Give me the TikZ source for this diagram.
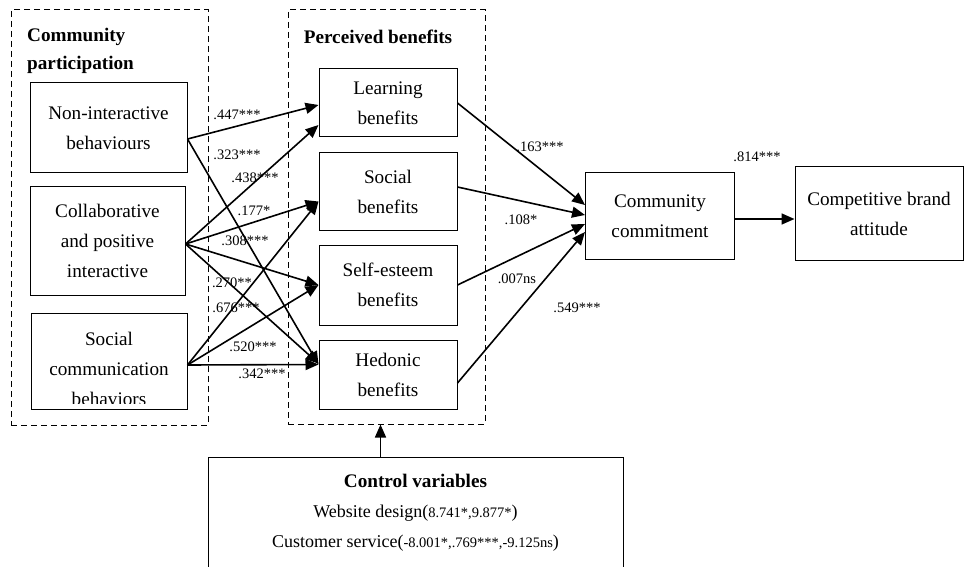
\documentclass[tikz,border=0pt]{standalone}
\usepackage{fontspec}
\setmainfont{Liberation Serif}
\usetikzlibrary{arrows.meta,calc}

\begin{document}
\begin{tikzpicture}
  [x=1pt,y=-1pt,
   every node/.style={font=\fontsize{19.2}{30}\selectfont,align=center,inner sep=0pt},
   box/.style={draw,line width=1pt},
   group/.style={draw,dash pattern=on 6pt off 4pt,line width=1pt},
   coef/.style={font=\fontsize{14.5}{16}\selectfont},
   head/.style={font=\fontsize{19.2}{28}\selectfont\bfseries},
   arr/.style={-{Triangle[length=13pt,width=11pt]},line width=1.6pt}]
  \useasboundingbox (0,0) rectangle (964,567);

  % dashed groups
  \node[group,minimum width=197,minimum height=415] (cp) at (109.5,217.5) {};
  \node[group,minimum width=197,minimum height=414] (pb) at (386.5,217) {};
  \node[head,anchor=west,align=left] (cptitle) at (27,51) {Community\\participation};
  \node[head] (pbtitle) at (378,37) {Perceived benefits};

  % community participation
  \node[box,minimum width=157,minimum height=90] (ni) at (108.5,128) {Non-interactive\\behaviours};
  \node[box,minimum width=155,minimum height=109] (cpi) at (107.5,240.5) {Collaborative\\and positive\\interactive};
  \node[box,minimum width=156,minimum height=96] (scb) at (109,361) {};
  \begin{scope}
    \clip ($(scb.south west)+(1,-6)$) rectangle (scb.north east);
    \node (scbtext) at (109,369) {Social\\communication\\behaviors};
  \end{scope}

  % perceived benefits
  \node[box,minimum width=138,minimum height=68] (learn) at (388,103) {Learning\\benefits};
  \node[box,minimum width=138,minimum height=77] (social) at (388,191.5) {Social\\benefits};
  \node[box,minimum width=138,minimum height=80] (esteem) at (388,285) {Self-esteem\\benefits};
  \node[box,minimum width=138,minimum height=69] (hedonic) at (388,374.5) {Hedonic\\benefits};

  \node[box,minimum width=149,minimum height=86] (commit) at (660,216) {Community\\commitment};
  \node[box,minimum width=168,minimum height=93] (brand) at (879,213.5) {Competitive brand\\attitude};

  % control variables
  \node[box,minimum width=415,minimum height=130] (ctrl) at (415.5,522) {};
  \node[font=\fontsize{18}{30}\selectfont] (ctrltext) at (415.5,513)
    {\textbf{\fontsize{19.2}{30}\selectfont Control variables}\\
     Website design({\fontsize{14.5}{16}\selectfont 8.741*,9.877*})\\
     Customer service({\fontsize{14.5}{16}\selectfont -8.001*,.769***,-9.125ns})};

  \coordinate (niout) at ($(ni.east)+(0,11)$);
  \coordinate (cpiout) at ($(cpi.east)+(0,3.5)$);
  \coordinate (scbout) at ($(scb.east)+(0,4)$);
  \coordinate (ctrlin) at ($(pb.south)+(-6,0)$);

  \path[arr]
    (niout) edge ($(learn.west)+(0,2)$)
    (niout) edge ($(hedonic.west)+(0,-10)$)
    (cpiout) edge ($(learn.west)+(0,22)$)
    (cpiout) edge ($(social.west)+(0,10)$)
    (cpiout) edge (esteem.west)
    (cpiout) edge ($(hedonic.west)+(0,-11)$)
    (scbout) edge ($(social.west)+(0,10)$)
    (scbout) edge (esteem.west)
    (scbout) edge ($(hedonic.west)+(0,-10)$)
    (learn.east) edge ($(commit.west)+(0,-11)$)
    ($(social.east)+(0,-4.5)$) edge ($(commit.west)+(0,-1)$)
    (esteem.east) edge ($(commit.west)+(0,8)$)
    ($(hedonic.east)+(0,8.5)$) edge ($(commit.west)+(0,16)$)
    ($(commit.east)+(0,3)$) edge ($(commit.east -| brand.west)+(0,3)$)
    (ctrlin |- ctrl.north) edge (ctrlin);

  % path coefficients
  \node[coef] (k1) at (237,115) {.447***};
  \node[coef] (k2) at (237,155) {.323***};
  \node[coef] (k3) at (255,178) {.438***};
  \node[coef] (k4) at (254,211) {.177*};
  \node[coef] (k5) at (245,241) {.308***};
  \node[coef] (k6) at (232,283) {.270**};
  \node[coef] (k7) at (236,308) {.676***};
  \node[coef] (k8) at (253,347) {.520***};
  \node[coef] (k9) at (262,374) {.342***};
  \node[coef] (k10) at (540,147) {.163***};
  \node[coef] (k11) at (521,220) {.108*};
  \node[coef] (k12) at (517,279) {.007ns};
  \node[coef] (k13) at (577,308) {.549***};
  \node[coef] (k14) at (757,157) {.814***};

\end{tikzpicture}
\end{document}
